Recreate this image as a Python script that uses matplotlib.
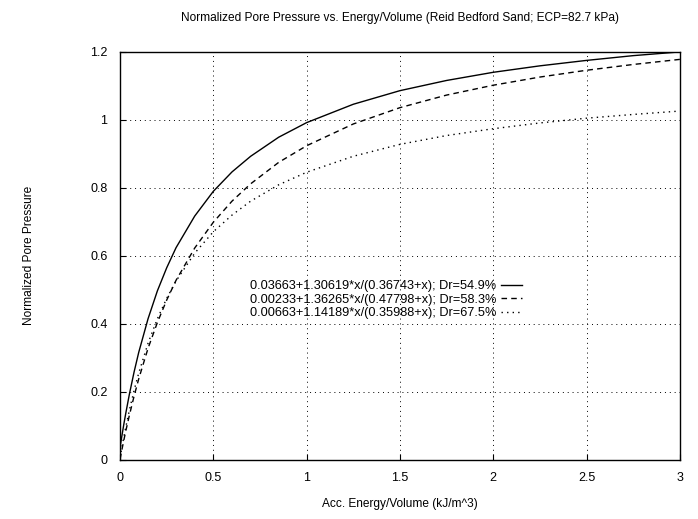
import matplotlib.pyplot as plt

plt.rcParams['font.family'] = ['Liberation Sans', 'DejaVu Sans']

# values
x = [0, 0.01, 0.02, 0.03, 0.05, 0.075, 0.1, 0.15, 0.2, 0.25, 0.3, 0.4, 0.5,
     0.6, 0.7, 0.85, 1.0, 1.25, 1.5, 1.75, 2.0, 2.25, 2.5, 2.75, 3.0]
dr549 = [0.037, 0.071, 0.104, 0.135, 0.193, 0.258, 0.316, 0.415, 0.497, 0.565,
         0.624, 0.717, 0.790, 0.847, 0.893, 0.949, 0.992, 1.046, 1.086, 1.116,
         1.140, 1.159, 1.175, 1.189, 1.200]
dr583 = [0.002, 0.030, 0.057, 0.083, 0.131, 0.187, 0.238, 0.328, 0.404, 0.470,
         0.528, 0.623, 0.699, 0.761, 0.812, 0.875, 0.924, 0.988, 1.036, 1.073,
         1.102, 1.126, 1.146, 1.163, 1.178]
dr675 = [0.007, 0.037, 0.067, 0.094, 0.146, 0.204, 0.255, 0.343, 0.415, 0.475,
         0.526, 0.608, 0.671, 0.720, 0.761, 0.809, 0.846, 0.893, 0.928, 0.954,
         0.974, 0.991, 1.005, 1.016, 1.026]
labels = ['0.03663+1.30619*x/(0.36743+x); Dr=54.9%',
          '0.00233+1.36265*x/(0.47798+x); Dr=58.3%',
          '0.00663+1.14189*x/(0.35988+x); Dr=67.5%']

fig = plt.figure(figsize=(6.98, 5.19), dpi=100)
ax = fig.add_axes([0.172, 0.114, 0.802, 0.786])

ax.plot(x, dr549, color='black', lw=1.0, label=labels[0])
ax.plot(x, dr583, color='black', lw=1.0, ls=(0, (4, 3)), label=labels[1])
ax.plot(x, dr675, color='black', lw=1.0, ls=(0, (1, 3)), label=labels[2])

ax.set_xlim(0, 3)
ax.set_ylim(0, 1.2)
ax.set_xticks([0, 0.5, 1, 1.5, 2, 2.5, 3])
ax.set_xticklabels(['0', '0.5', '1', '1.5', '2', '2.5', '3'])
ax.set_yticks([0, 0.2, 0.4, 0.6, 0.8, 1, 1.2])
ax.set_yticklabels(['0', '0.2', '0.4', '0.6', '0.8', '1', '1.2'])
ax.grid(True, color='black', ls=(0, (1, 4)), lw=0.7)
ax.tick_params(direction='in', length=4, labelsize=9, pad=9)
for s in ax.spines.values():
    s.set_linewidth(1.0)

ax.set_title('Normalized Pore Pressure vs. Energy/Volume (Reid Bedford Sand; ECP=82.7 kPa)',
             fontsize=8.6, pad=22)
ax.set_xlabel('Acc. Energy/Volume (kJ/m^3)', fontsize=8.6, labelpad=10)
ax.set_ylabel('Normalized Pore Pressure', fontsize=8.6, labelpad=40)

ax.legend(loc='center', bbox_to_anchor=(0.475, 0.392), frameon=False,
          markerfirst=False, fontsize=9.2, handlelength=1.6,
          handletextpad=0.4, labelspacing=0.12)

fig.savefig('out.png', dpi=100)
